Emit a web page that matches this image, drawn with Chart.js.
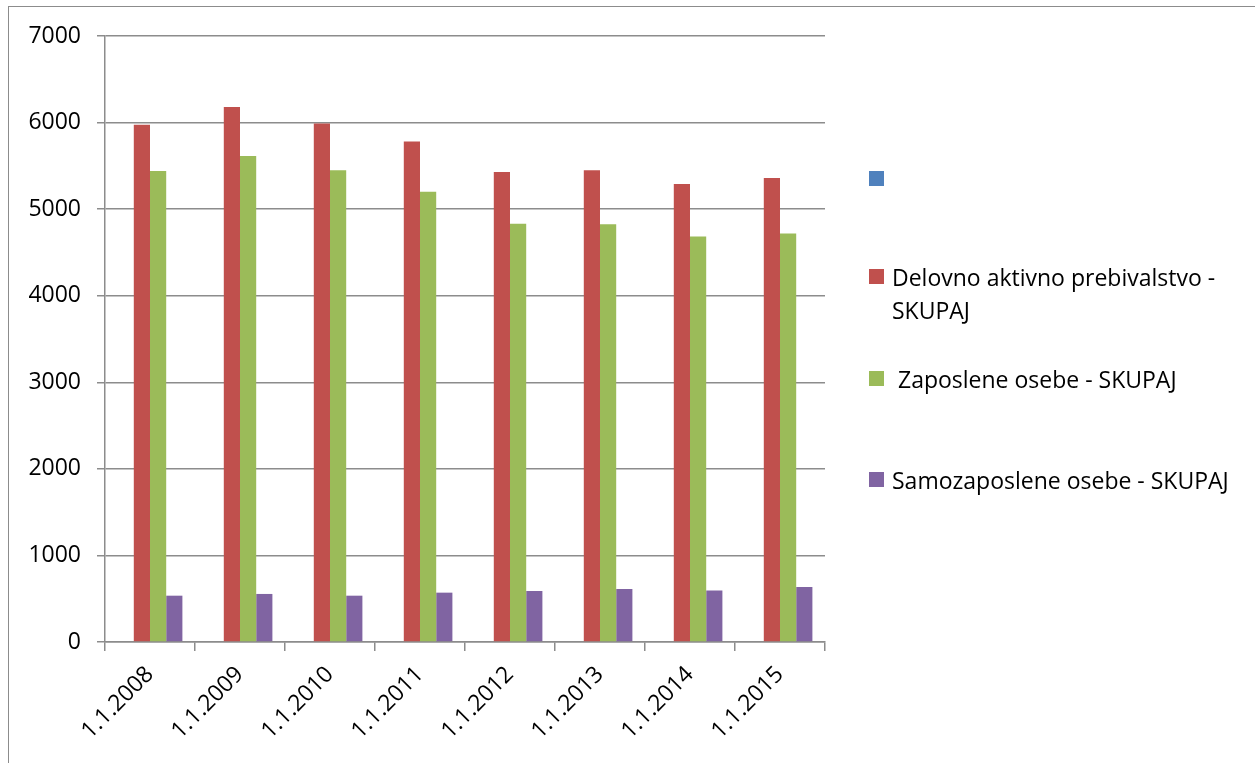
<!DOCTYPE html>
<html>
<head>
    <title>Delovno aktivno prebivalstvo</title>
    <style>
        body {
            margin: 0;
            padding: 0;
            background-color: #fff;
            overflow: hidden;
            font-family: "Open Sans", sans-serif;
        }

        #frame {
            position: absolute;
            left: 8px;
            top: 6px;
            width: 1400px;
            height: 900px;
            border: 1px solid #8c8c8c;
        }

        #chart-container {
            position: absolute;
            left: 0;
            top: 0;
            width: 1255px;
            height: 763px;
        }

        .legend-item {
            position: absolute;
            left: 869px;
            font-size: 23px;
            line-height: 33px;
            color: #000;
            white-space: pre;
        }

        .legend-box {
            position: absolute;
            left: 0;
            width: 15px;
            height: 15px;
        }

        .legend-text {
            position: absolute;
            left: 23px;
            top: 0;
        }
    </style>
</head>
<body>
    <div id="frame"></div>
    <div id="chart-container">
        <canvas id="bar-chart" width="1255" height="763"></canvas>
    </div>
    <div id="legend"></div>

    <script src="https://cdn.jsdelivr.net/npm/chart.js"></script>
    <script>
        // data
        const categories = ['1.1.2008', '1.1.2009', '1.1.2010', '1.1.2011', '1.1.2012', '1.1.2013', '1.1.2014', '1.1.2015'];
        const seriesNames = ['', 'Delovno aktivno prebivalstvo - SKUPAJ', ' Zaposlene osebe - SKUPAJ', 'Samozaposlene osebe - SKUPAJ'];
        const emptySeries = [null, null, null, null, null, null, null, null];
        const delovnoAktivno = [5975, 6180, 5990, 5780, 5430, 5450, 5290, 5360];
        const zaposlene = [5440, 5615, 5450, 5200, 4830, 4825, 4685, 4720];
        const samozaposlene = [535, 555, 535, 570, 590, 612, 596, 635];
        const yTicks = [0, 1000, 2000, 3000, 4000, 5000, 6000, 7000];

        const colors = ['#4F81BD', '#C0504D', '#9BBB59', '#8064A2'];
        const allSeries = [emptySeries, delovnoAktivno, zaposlene, samozaposlene];

        const axisFont = { family: '"Open Sans", sans-serif', size: 23 };

        const ctx = document.getElementById('bar-chart').getContext('2d');
        const chart = new Chart(ctx, {
            type: 'bar',
            data: {
                labels: categories,
                datasets: allSeries.map((values, i) => ({
                    label: seriesNames[i],
                    data: values,
                    backgroundColor: colors[i],
                    borderWidth: 0,
                    categoryPercentage: 0.72,
                    barPercentage: 1
                }))
            },
            options: {
                responsive: false,
                animation: false,
                layout: {
                    padding: { left: 0, top: 36, right: 430, bottom: 0 }
                },
                plugins: {
                    legend: { display: false },
                    tooltip: { enabled: false }
                },
                scales: {
                    x: {
                        grid: {
                            display: true,
                            drawOnChartArea: false,
                            offset: true,
                            color: '#8c8c8c',
                            lineWidth: 1.5,
                            tickLength: 9
                        },
                        border: { color: '#8c8c8c', width: 1.5 },
                        ticks: {
                            color: '#000',
                            font: axisFont,
                            minRotation: 45,
                            maxRotation: 45,
                            padding: 10
                        },
                        afterFit: function (axis) {
                            axis.height = 121;
                        }
                    },
                    y: {
                        min: 0,
                        max: 7000,
                        afterBuildTicks: function (axis) {
                            axis.ticks = yTicks.map(v => ({ value: v }));
                        },
                        grid: {
                            color: '#8c8c8c',
                            lineWidth: 1.5,
                            tickLength: 8
                        },
                        border: { color: '#8c8c8c', width: 1.5 },
                        ticks: {
                            color: '#000',
                            font: axisFont,
                            padding: 16,
                            callback: value => String(value)
                        },
                        afterFit: function (axis) {
                            axis.width = 105;
                        }
                    }
                }
            }
        });

        // legend on the right, laid out like the original one
        const legendTops = [163, 261, 363, 464];
        const legend = document.getElementById('legend');
        seriesNames.forEach((name, i) => {
            const item = document.createElement('div');
            item.className = 'legend-item';
            item.style.top = legendTops[i] + 'px';
            const box = document.createElement('div');
            box.className = 'legend-box';
            box.style.top = '8px';
            box.style.backgroundColor = colors[i];
            const text = document.createElement('div');
            text.className = 'legend-text';
            // the long label wraps after the dash
            text.textContent = name.replace('prebivalstvo - ', 'prebivalstvo -\n');
            item.appendChild(box);
            item.appendChild(text);
            legend.appendChild(item);
        });
    </script>
</body>
</html>
